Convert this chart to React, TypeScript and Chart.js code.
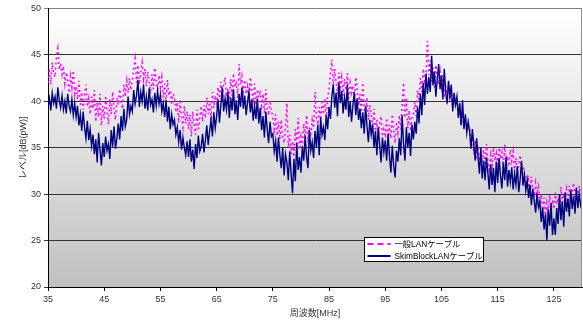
import { useEffect, useRef } from 'react';
import { Chart, registerables } from 'chart.js';

Chart.register(...registerables);

const FREQ_START = 35;
const FREQ_STEP = 0.25;
const X_MIN = 35;
const X_MAX = 130;
const X_TICKS = [35, 45, 55, 65, 75, 85, 95, 105, 115, 125];
const Y_MIN = 20;
const Y_MAX = 50;
const Y_STEP = 5;

const LABEL_NORMAL = '一般LANケーブル';
const LABEL_SKIM = 'SkimBlockLANケーブル';
const X_TITLE = '周波数[MHz]';
const Y_TITLE = 'レベル[dB(pW)]';

// 一般LANケーブル (every 0.25 MHz from 35 MHz, 10 values per 2.5 MHz row)
const normalLan = [
  42.0, 43.5, 41.8, 44.2, 43.0, 42.6, 44.8, 45.7, 43.4, 44.1,
  42.9, 43.8, 41.9, 43.1, 42.2, 40.9, 42.7, 41.5, 43.3, 40.8,
  41.6, 40.2, 42.2, 39.6, 41.0, 39.1, 40.7, 41.8, 39.4, 40.3,
  38.6, 40.5, 39.2, 41.2, 37.8, 39.9, 38.3, 40.8, 37.4, 39.5,
  38.1, 40.6, 39.0, 37.5, 40.2, 38.6, 41.0, 39.3, 38.0, 40.4,
  39.6, 41.3, 40.0, 39.2, 41.8, 40.5, 42.2, 40.9, 42.5, 41.2,
  42.3, 43.6, 44.6, 42.0, 43.9, 41.8, 43.1, 44.2, 42.4, 43.5,
  41.6, 43.2, 42.0, 40.8, 42.9, 41.3, 43.6, 42.1, 41.0, 42.8,
  41.5, 42.6, 40.4, 41.9, 39.9, 42.3, 40.6, 41.2, 39.6, 40.8,
  40.5, 38.8, 39.9, 37.7, 40.2, 38.3, 37.2, 39.5, 37.6, 38.9,
  37.0, 38.6, 36.2, 38.9, 37.5, 36.4, 39.1, 37.0, 38.2, 39.5,
  37.8, 39.6, 38.2, 40.4, 38.6, 39.9, 37.9, 41.0, 39.3, 40.6,
  39.8, 41.5, 40.3, 42.1, 40.0, 41.8, 42.6, 40.5, 41.4, 39.9,
  42.4, 40.6, 43.0, 41.5, 42.2, 40.3, 44.0, 41.8, 42.7, 41.0,
  42.3, 40.8, 41.6, 39.8, 42.6, 41.1, 40.2, 41.9, 39.6, 41.3,
  40.4, 41.2, 39.5, 40.8, 38.7, 41.3, 39.2, 38.5, 40.1, 39.0,
  38.2, 37.0, 38.6, 36.3, 37.8, 35.9, 38.0, 36.1, 35.5, 37.2,
  39.8, 35.0, 36.4, 34.3, 35.7, 34.0, 37.0, 35.2, 38.2, 34.8,
  36.2, 35.1, 37.6, 36.0, 38.5, 35.6, 37.2, 36.5, 38.0, 37.1,
  41.0, 38.2, 37.5, 39.4, 38.0, 39.9, 38.6, 40.3, 37.8, 40.6,
  41.2, 43.0, 44.5, 41.6, 43.5, 42.0, 40.8, 43.1, 41.5, 42.6,
  40.6, 42.4, 41.2, 43.0, 40.3, 42.0, 40.9, 41.7, 40.0, 42.6,
  41.2, 39.5, 40.8, 38.8, 42.0, 39.2, 38.3, 40.4, 38.0, 39.6,
  38.6, 37.2, 39.2, 36.5, 38.0, 35.9, 37.6, 38.4, 36.2, 37.0,
  36.4, 38.2, 35.6, 37.5, 36.0, 38.6, 36.8, 35.5, 37.8, 36.6,
  38.5, 37.0, 39.6, 42.0, 38.2, 40.4, 37.1, 39.0, 36.8, 38.3,
  38.6, 39.9, 38.4, 41.2, 40.0, 42.5, 41.0, 43.5, 42.2, 43.0,
  46.5, 42.8, 44.4, 42.1, 43.6, 41.5, 43.9, 42.6, 41.8, 43.2,
  41.6, 42.8, 40.4, 41.9, 39.6, 42.0, 40.2, 41.1, 39.3, 40.7,
  39.5, 40.5, 38.3, 39.2, 37.5, 38.9, 37.0, 38.2, 37.4, 36.8,
  37.0, 35.6, 36.4, 34.3, 35.8, 33.7, 35.2, 33.0, 34.6, 33.4,
  34.8, 32.8, 35.4, 33.5, 32.6, 34.2, 33.1, 35.0, 33.6, 34.4,
  33.2, 35.0, 33.8, 34.5, 32.8, 35.3, 33.5, 34.1, 33.0, 34.8,
  33.6, 34.6, 32.4, 33.9, 32.0, 33.3, 34.2, 32.5, 33.0, 32.2,
  32.2, 30.6, 31.5, 29.8, 31.9, 30.4, 29.7, 31.2, 30.0, 30.8,
  29.2, 30.0, 28.0, 29.6, 27.4, 29.0, 27.8, 29.9, 28.2, 29.4,
  28.4, 30.2, 28.9, 29.6, 28.3, 30.8, 29.1, 30.0, 28.8, 30.5,
  29.4, 30.9, 29.0, 30.4, 31.2, 29.6, 30.6, 29.2, 30.9, 29.8,
  30.2,
];

// SkimBlockLANケーブル (every 0.25 MHz from 35 MHz, 10 values per 2.5 MHz row)
const skimBlockLan = [
  39.4, 40.3, 39.0, 40.9, 39.8, 40.5, 39.2, 41.5, 40.1, 39.3,
  40.6, 39.1, 40.0, 38.7, 40.8, 39.5, 38.9, 40.2, 38.5, 39.8,
  38.3, 39.5, 37.4, 38.6, 36.8, 38.9, 37.2, 36.0, 37.9, 35.8,
  37.0, 35.2, 36.4, 34.3, 35.9, 33.4, 36.6, 34.8, 33.1, 35.5,
  34.0, 36.2, 34.7, 35.4, 33.8, 36.9, 35.1, 37.3, 34.9, 36.0,
  37.6, 35.9, 38.4, 36.8, 39.2, 37.3, 38.0, 40.5, 38.6, 39.5,
  38.9, 41.2, 39.7, 40.6, 42.3, 39.4, 41.0, 40.0, 41.8, 39.2,
  40.5, 39.0, 41.4, 39.6, 40.2, 38.8, 40.9, 39.5, 41.1, 39.7,
  40.7, 38.9, 39.8, 38.3, 40.1, 37.8, 39.4, 37.0, 38.6, 37.5,
  38.0, 36.4, 37.2, 35.6, 36.9, 34.8, 36.1, 35.0, 34.2, 35.7,
  34.0, 35.9, 33.5, 34.8, 32.7, 35.4, 33.9, 36.3, 34.6, 35.1,
  36.5, 34.5, 35.8, 37.4, 35.3, 36.8, 38.0, 36.2, 38.8, 37.1,
  38.4, 40.2, 37.7, 39.6, 41.5, 38.9, 40.3, 39.1, 41.0, 38.2,
  40.4, 39.0, 41.3, 38.6, 40.1, 38.0, 40.8, 39.4, 41.5, 39.2,
  40.6, 38.5, 39.9, 41.0, 38.8, 40.2, 37.9, 39.5, 38.1, 40.3,
  37.6, 39.3, 36.9, 38.4, 36.1, 38.9, 37.0, 35.5, 37.8, 36.2,
  36.5, 34.6, 35.7, 33.5, 36.1, 34.2, 32.8, 35.0, 32.0, 34.3,
  33.4, 31.5, 34.6, 32.2, 30.1, 33.8, 31.4, 35.5, 32.6, 34.0,
  32.3, 35.1, 33.6, 36.3, 34.0, 32.8, 36.9, 34.7, 35.6, 33.9,
  36.8, 35.0, 37.5, 34.2, 38.3, 36.4, 37.2, 35.8, 38.5, 37.0,
  39.4, 38.1, 40.6, 41.8, 39.3, 40.9, 38.4, 42.0, 39.8, 41.1,
  38.7, 40.4, 39.1, 41.8, 38.3, 40.0, 37.8, 39.6, 41.0, 38.5,
  40.3, 38.0, 39.2, 37.1, 38.8, 36.5, 39.5, 37.3, 35.6, 38.0,
  36.4, 37.5, 35.0, 36.8, 34.2, 37.2, 35.3, 33.4, 36.1, 34.5,
  35.8, 33.6, 36.5, 34.1, 32.3, 35.2, 33.0, 31.8, 34.7, 33.5,
  36.0, 34.2, 38.5, 35.4, 33.6, 37.2, 35.0, 36.6, 34.1, 37.5,
  35.9, 37.8, 36.5, 39.4, 37.6, 40.8, 38.5, 42.0, 39.6, 43.0,
  40.8, 42.6, 41.0, 44.9, 41.7, 43.2, 40.5, 42.4, 44.0, 41.3,
  42.8, 40.2, 43.5, 41.0, 39.8, 42.2, 40.5, 41.8, 38.9, 40.9,
  39.6, 40.5, 38.2, 39.8, 37.4, 40.1, 37.0, 38.6, 36.6, 37.8,
  36.8, 34.9, 37.0, 35.3, 33.6, 36.0, 34.1, 32.2, 35.0, 31.7,
  33.6, 31.5, 34.0, 32.3, 30.5, 33.2, 31.0, 32.8, 30.2, 33.5,
  31.2, 33.9, 32.0, 30.6, 33.4, 31.5, 34.0, 30.8, 32.6, 31.3,
  32.9, 30.5, 32.2, 31.0, 33.0, 30.2, 31.6, 33.6, 30.9, 32.1,
  30.4, 31.5, 29.6, 31.0, 28.8, 30.6, 29.3, 28.0, 30.1, 28.6,
  29.2, 27.0, 28.5, 26.2, 27.8, 25.0, 28.4, 26.6, 29.0, 25.6,
  27.4, 25.6, 28.5, 26.8, 30.0, 27.2, 29.2, 26.5, 30.2, 28.1,
  29.5, 27.6, 30.5, 28.4, 29.8, 27.9, 30.7, 28.5, 30.0, 28.8,
  29.4,
];

const FONT = "'Liberation Sans', 'Noto Sans CJK JP', sans-serif";

const toPoints = (vals: number[]) =>
  vals.map((v, i) => ({ x: FREQ_START + i * FREQ_STEP, y: v }));

const backgroundPlugin = {
  id: 'plotBackground',
  beforeDraw(chart: any) {
    const { ctx, chartArea, width, height } = chart;
    const { left, top, right, bottom } = chartArea;
    ctx.save();
    ctx.fillStyle = '#ffffff';
    ctx.fillRect(0, 0, width, height);
    const g = ctx.createLinearGradient(0, top, 0, bottom);
    g.addColorStop(0, '#ffffff');
    g.addColorStop(1, '#c0c0c0');
    ctx.fillStyle = g;
    ctx.fillRect(left, top, right - left, bottom - top);
    ctx.restore();
  },
  afterDatasetsDraw(chart: any) {
    const { ctx, chartArea } = chart;
    const { top, right, bottom } = chartArea;
    ctx.save();
    ctx.strokeStyle = '#909090';
    ctx.lineWidth = 1;
    ctx.beginPath();
    ctx.moveTo(Math.round(right) - 0.5, top);
    ctx.lineTo(Math.round(right) - 0.5, bottom);
    ctx.stroke();
    ctx.restore();
  },
};

const boxLegendPlugin = {
  id: 'boxLegend',
  afterDraw(chart: any) {
    const { ctx } = chart;
    const x = 364.5;
    const y = 237.5;
    const w = 119;
    const h = 24;
    ctx.save();
    ctx.fillStyle = '#ffffff';
    ctx.fillRect(x, y, w, h);
    ctx.strokeStyle = '#000000';
    ctx.lineWidth = 1;
    ctx.strokeRect(x, y, w, h);
    chart.data.datasets.forEach((ds: any, i: number) => {
      const cy = y + 6.5 + i * 12;
      ctx.setLineDash(i === 0 ? [6, 4] : []);
      ctx.strokeStyle = ds.borderColor;
      ctx.lineWidth = 2;
      ctx.beginPath();
      ctx.moveTo(x + 3, cy);
      ctx.lineTo(x + 26, cy);
      ctx.stroke();
      ctx.setLineDash([]);
      ctx.fillStyle = '#000000';
      ctx.font = `8.3px ${FONT}`;
      ctx.textBaseline = 'middle';
      ctx.textAlign = 'left';
      ctx.fillText(ds.label, x + 30, cy + 0.5);
    });
    ctx.restore();
  },
};

export default function App() {
  const canvasRef = useRef<HTMLCanvasElement | null>(null);

  useEffect(() => {
    const canvas = canvasRef.current;
    if (!canvas) return;
    const chart = new Chart(canvas, {
      type: 'line',
      data: {
        datasets: [
          {
            label: LABEL_NORMAL,
            data: toPoints(normalLan),
            borderColor: '#ff00ff',
            borderWidth: 1.5,
            borderDash: [2, 3],
            pointRadius: 0,
            tension: 0,
            order: 1,
          },
          {
            label: LABEL_SKIM,
            data: toPoints(skimBlockLan),
            borderColor: '#000080',
            borderWidth: 1.4,
            pointRadius: 0,
            tension: 0,
            order: 0,
          },
        ],
      },
      options: {
        animation: false,
        responsive: false,
        maintainAspectRatio: false,
        layout: { padding: { top: 6, right: 1, left: 0, bottom: 0 } },
        plugins: {
          legend: { display: false },
          tooltip: { enabled: false },
        },
        scales: {
          x: {
            type: 'linear',
            min: X_MIN,
            max: X_MAX,
            afterBuildTicks: (scale: any) => {
              scale.ticks = X_TICKS.map((v) => ({ value: v }));
            },
            afterFit: (scale: any) => {
              scale.height = 34;
            },
            ticks: {
              autoSkip: false,
              maxRotation: 0,
              padding: 3,
              color: '#333333',
              font: { family: FONT, size: 9 },
            },
            grid: {
              drawOnChartArea: false,
              drawTicks: true,
              tickLength: 4,
              color: '#000000',
            },
            border: { display: true, color: '#000000', width: 1 },
            title: {
              display: true,
              text: X_TITLE,
              color: '#333333',
              font: { family: FONT, size: 9 },
              padding: { top: 0, bottom: 2 },
            },
          },
          y: {
            min: Y_MIN,
            max: Y_MAX,
            afterFit: (scale: any) => {
              scale.width = 48;
            },
            ticks: {
              stepSize: Y_STEP,
              padding: 3,
              color: '#333333',
              font: { family: FONT, size: 9 },
            },
            grid: {
              color: (c: any) => (c.tick && c.tick.value === Y_MAX ? '#808080' : '#333333'),
              lineWidth: 1,
              tickLength: 4,
            },
            border: { display: true, color: '#000000', width: 1 },
            title: {
              display: true,
              text: Y_TITLE,
              color: '#333333',
              font: { family: FONT, size: 9 },
              padding: { top: 18, bottom: 0 },
            },
          },
        },
      },
      plugins: [backgroundPlugin, boxLegendPlugin],
    });
    return () => chart.destroy();
  }, []);

  return (
    <div style={{ position: 'absolute', left: 0, top: 0, width: 583, height: 321, background: '#fff' }}>
      <canvas ref={canvasRef} width={583} height={321} style={{ display: 'block' }} />
    </div>
  );
}
